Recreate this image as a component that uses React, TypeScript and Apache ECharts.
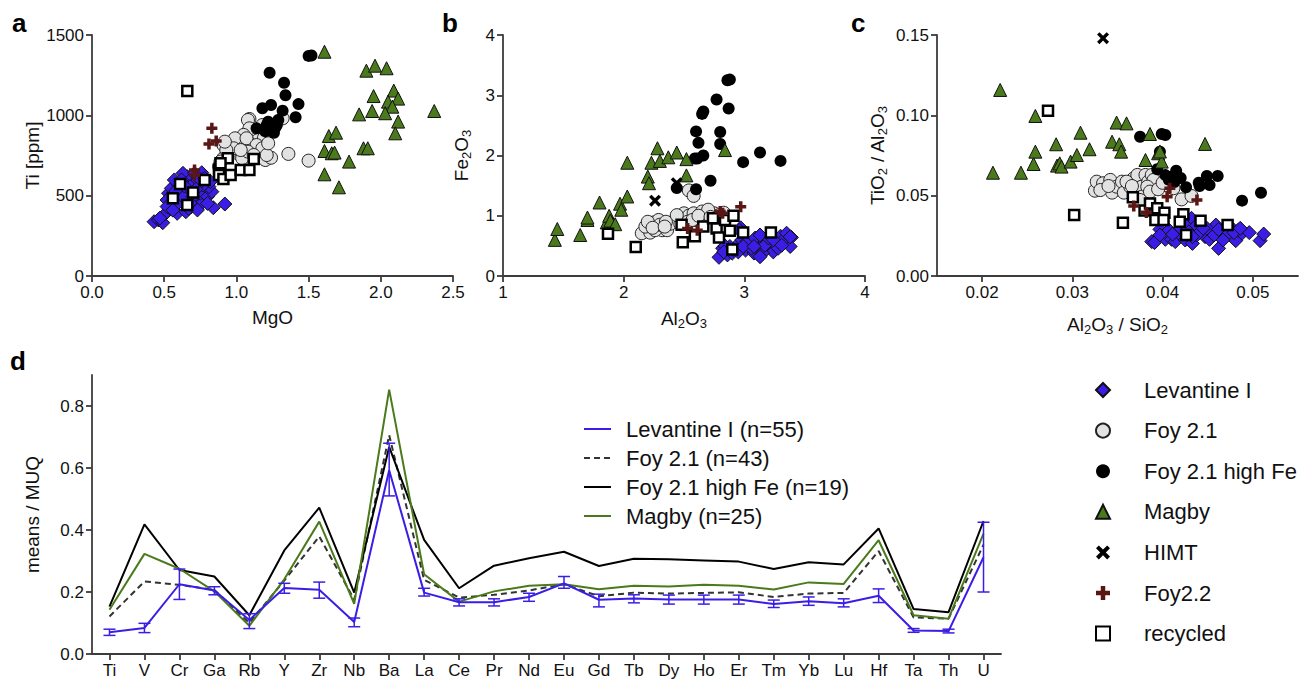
import React, { useEffect, useRef } from "react";
import * as echarts from "echarts";

const FONT = '"Liberation Sans", Arial, Helvetica, sans-serif';

// ---------- Panel a: MgO vs Ti [ppm] ----------
const levA = [[0.43,338],[0.46,349],[0.49,332],[0.51,390],[0.54,421],[0.59,390],[0.65,400],[0.57,483],[0.53,515],[0.55,546],[0.60,566],[0.62,525],[0.66,473],[0.69,432],[0.73,473],[0.76,452],[0.75,515],[0.80,494],[0.83,525],[0.81,556],[0.77,566],[0.73,566],[0.69,587],[0.66,618],[0.63,639],[0.71,639],[0.76,643],[0.68,556],[0.61,473],[0.59,448],[0.84,425],[0.92,448],[0.63,494],[0.70,494],[0.57,598],[0.74,608],[0.78,608],[0.62,598],[0.52,473],[0.52,432],[0.67,421],[0.73,411],[0.80,452],[0.82,587],[0.58,530],[0.64,560],[0.72,540],[0.56,410],[0.47,360],[0.68,455]];
const fyA = [[1.09,977],[1.32,981],[1.08,971],[1.13,898],[1.15,846],[1.19,857],[0.91,815],[0.97,830],[1.03,826],[1.06,774],[1.00,767],[1.09,826],[1.11,795],[0.95,764],[0.91,733],[1.04,733],[1.20,722],[1.24,736],[1.36,760],[1.50,718],[0.89,712],[0.88,681],[1.18,940],[1.09,919],[1.05,878],[0.99,857],[1.07,857],[1.14,815],[1.18,795],[1.08,774],[0.98,795],[0.93,784],[1.12,753],[1.21,753],[1.22,826],[1.03,784],[0.92,836]];
const highFeA = [[1.50,1370],[1.52,1372],[1.23,1265],[1.33,1203],[1.34,1125],[1.18,1044],[1.24,1064],[1.32,1029],[1.43,1070],[1.41,988],[1.22,960],[1.29,971],[1.14,919],[1.26,892],[1.21,940],[1.28,940],[1.24,919],[1.20,900],[1.27,925]];
const magbyA = [[1.61,1396],[1.90,1278],[1.96,1309],[2.04,1293],[2.09,1154],[1.95,1120],[2.05,1085],[2.12,1104],[2.08,1054],[1.85,1006],[1.94,1027],[2.03,1013],[2.37,1027],[2.12,961],[2.10,888],[1.64,871],[1.69,892],[1.61,778],[1.66,764],[1.68,768],[1.88,795],[1.91,795],[1.78,712],[1.61,633],[1.71,552]];
const foy22A = [[0.83,919],[0.81,821],[0.86,840],[0.71,660],[0.71,629]];
const recA = [[0.66,1151],[0.94,733],[0.88,663],[0.88,629],[0.91,604],[0.96,629],[1.03,660],[1.09,660],[1.12,728],[0.78,598],[0.61,573],[0.70,519],[0.56,484],[0.66,442],[0.89,701]];

// ---------- Panel b: Al2O3 vs Fe2O3 ----------
const levB = [[2.79,0.31],[2.82,0.46],[2.86,0.35],[2.90,0.38],[2.94,0.51],[2.97,0.80],[2.98,0.60],[3.01,0.43],[3.04,0.51],[3.08,0.38],[3.10,0.54],[3.13,0.46],[3.16,0.59],[3.19,0.46],[3.22,0.54],[3.24,0.40],[3.27,0.61],[3.30,0.66],[3.33,0.57],[3.39,0.64],[3.38,0.49],[2.88,0.49],[2.95,0.40],[3.06,0.46],[3.15,0.38],[3.26,0.51],[3.34,0.63],[2.84,0.50],[3.02,0.57],[3.09,0.63],[3.17,0.51],[3.28,0.46],[2.91,0.44],[2.99,0.49],[3.20,0.63],[3.24,0.60],[3.35,0.71],[3.13,0.68],[3.08,0.49],[3.31,0.51],[3.13,0.32],[2.83,0.40],[2.96,0.76],[3.38,0.65]];
const fyB = [[2.15,0.71],[2.22,0.72],[2.18,0.82],[2.25,0.89],[2.29,0.93],[2.32,0.76],[2.36,0.76],[2.41,0.90],[2.45,0.93],[2.50,1.04],[2.54,1.00],[2.58,1.04],[2.61,0.96],[2.65,1.07],[2.69,1.01],[2.75,1.04],[2.83,1.05],[2.39,0.87],[2.47,0.86],[2.26,0.76],[2.20,0.90],[2.59,0.93],[2.66,0.93],[2.53,0.90],[2.30,0.85],[2.35,0.90],[2.44,1.01],[2.79,1.01],[2.70,1.10],[2.57,0.93],[2.54,1.42],[2.58,1.33],[2.24,0.80],[2.34,0.82],[2.62,1.00],[2.72,0.98]];
const highFeB = [[2.86,3.25],[2.88,3.26],[2.77,2.93],[2.87,2.78],[2.66,2.73],[2.65,2.69],[2.60,2.40],[2.80,2.39],[2.62,2.21],[2.80,2.19],[2.66,2.00],[2.59,1.95],[2.61,1.95],[3.13,2.05],[2.99,1.89],[3.30,1.91],[2.72,1.58],[2.44,1.46],[2.60,1.44]];
const magbyB = [[1.43,0.60],[1.45,0.78],[1.64,0.68],[1.70,0.93],[1.70,0.97],[1.80,1.22],[1.86,0.89],[1.88,1.00],[1.91,0.87],[1.97,1.20],[1.98,1.10],[2.03,1.32],[2.03,1.88],[2.20,1.65],[2.21,1.54],[2.23,1.88],[2.28,2.12],[2.30,1.91],[2.37,1.97],[2.44,2.05],[2.52,1.94],[2.52,1.67],[2.84,2.09],[1.89,0.92],[1.93,0.86]];
const himtB = [[2.26,1.25],[2.44,1.54]];
const foy22B = [[2.53,0.79],[2.61,0.76],[2.80,1.07],[2.82,1.04],[2.97,1.15]];
const recB = [[1.87,0.70],[2.10,0.48],[2.49,0.56],[2.48,0.85],[2.59,0.66],[2.66,0.82],[2.74,0.96],[2.77,0.79],[2.84,0.93],[2.91,1.00],[2.79,0.64],[2.88,0.75],[2.99,0.72],[2.90,0.44],[3.22,0.72]];

// ---------- Panel c: Al2O3/SiO2 vs TiO2/Al2O3 ----------
const levC = [[0.0388,0.0214],[0.0391,0.0208],[0.0397,0.0290],[0.0403,0.0228],[0.0407,0.0286],[0.0410,0.0228],[0.0414,0.0214],[0.0418,0.0266],[0.0420,0.0297],[0.0425,0.0224],[0.0432,0.0359],[0.0433,0.0203],[0.0436,0.0307],[0.0442,0.0276],[0.0447,0.0245],[0.0452,0.0228],[0.0455,0.0290],[0.0459,0.0317],[0.0462,0.0172],[0.0466,0.0276],[0.0470,0.0249],[0.0475,0.0307],[0.0481,0.0220],[0.0484,0.0286],[0.0488,0.0266],[0.0496,0.0270],[0.0508,0.0220],[0.0512,0.0261],[0.0449,0.0297],[0.0427,0.0286],[0.0438,0.0255],[0.0457,0.0255],[0.0462,0.0290],[0.0479,0.0270],[0.0397,0.0255],[0.0411,0.0260],[0.0433,0.0245],[0.0423,0.0328],[0.0445,0.0297],[0.0486,0.0297],[0.0467,0.0224]];
const fyC = [[0.0325,0.0531],[0.0327,0.0587],[0.0334,0.0577],[0.0342,0.0598],[0.0344,0.0519],[0.0349,0.0556],[0.0355,0.0587],[0.0357,0.0519],[0.0364,0.0556],[0.0368,0.0608],[0.0372,0.0629],[0.0377,0.0556],[0.0381,0.0629],[0.0384,0.0587],[0.0388,0.0629],[0.0392,0.0566],[0.0396,0.0598],[0.0399,0.0618],[0.0403,0.0566],[0.0409,0.0587],[0.0377,0.0494],[0.0375,0.0473],[0.0421,0.0477],[0.0432,0.0498],[0.0331,0.0535],[0.0360,0.0587],[0.0390,0.0598],[0.0383,0.0556],[0.0412,0.0546],[0.0340,0.0560],[0.0366,0.0560],[0.0386,0.0525],[0.0395,0.0540],[0.0400,0.0580]];
const highFeC = [[0.0375,0.0867],[0.0399,0.0884],[0.0403,0.0878],[0.0397,0.0774],[0.0394,0.0664],[0.0415,0.0655],[0.0410,0.0618],[0.0407,0.0598],[0.0413,0.0585],[0.0426,0.0552],[0.0440,0.0581],[0.0441,0.0560],[0.0449,0.0622],[0.0452,0.0566],[0.0461,0.0622],[0.0488,0.0469],[0.0509,0.0518],[0.0403,0.0628],[0.0420,0.0610]];
const magbyC = [[0.0220,0.1158],[0.0212,0.0643],[0.0243,0.0643],[0.0257,0.0697],[0.0259,0.0774],[0.0259,0.0996],[0.0282,0.0820],[0.0283,0.0687],[0.0286,0.0701],[0.0288,0.0681],[0.0298,0.0712],[0.0305,0.0753],[0.0309,0.0892],[0.0319,0.0789],[0.0344,0.0836],[0.0349,0.0955],[0.0352,0.0820],[0.0354,0.0774],[0.0360,0.0950],[0.0381,0.0722],[0.0386,0.0884],[0.0395,0.0764],[0.0399,0.0712],[0.0447,0.0822],[0.0397,0.0775]];
const himtC = [[0.0334,0.148]];
const foy22C = [[0.0368,0.0436],[0.0382,0.0396],[0.0405,0.0494],[0.0408,0.0546],[0.0438,0.0473]];
const recC = [[0.0273,0.1029],[0.0302,0.0380],[0.0356,0.0332],[0.0367,0.0490],[0.0380,0.0407],[0.0386,0.0452],[0.0394,0.0421],[0.0402,0.0394],[0.0392,0.0349],[0.0401,0.0349],[0.0423,0.0384],[0.0419,0.0338],[0.0426,0.0255],[0.0442,0.0344],[0.0472,0.0317]];

// ---------- Panel d: element means / MUQ ----------
const elements = ["Ti","V","Cr","Ga","Rb","Y","Zr","Nb","Ba","La","Ce","Pr","Nd","Eu","Gd","Tb","Dy","Ho","Er","Tm","Yb","Lu","Hf","Ta","Th","U"];
const levMean = [0.070,0.084,0.225,0.205,0.110,0.213,0.207,0.103,0.593,0.198,0.167,0.167,0.184,0.228,0.175,0.179,0.176,0.176,0.176,0.161,0.170,0.164,0.188,0.076,0.074,0.312];
const levLow = [0.060,0.069,0.176,0.191,0.082,0.196,0.180,0.088,0.510,0.187,0.155,0.155,0.170,0.212,0.152,0.165,0.161,0.161,0.161,0.150,0.157,0.152,0.166,0.070,0.068,0.200];
const levHigh = [0.080,0.099,0.274,0.217,0.130,0.228,0.232,0.116,0.680,0.212,0.178,0.178,0.196,0.250,0.193,0.191,0.190,0.190,0.190,0.174,0.184,0.178,0.210,0.082,0.080,0.425];
const fy21Mean = [0.121,0.234,0.223,0.207,0.100,0.237,0.379,0.175,0.706,0.239,0.182,0.191,0.205,0.225,0.186,0.198,0.195,0.197,0.199,0.184,0.195,0.197,0.332,0.118,0.114,0.353];
const highFeMean = [0.153,0.418,0.271,0.250,0.125,0.334,0.472,0.198,0.668,0.368,0.212,0.285,0.309,0.330,0.284,0.307,0.306,0.302,0.298,0.274,0.296,0.289,0.405,0.145,0.135,0.429];
const magbyMean = [0.143,0.323,0.275,0.202,0.091,0.241,0.427,0.162,0.853,0.257,0.169,0.202,0.220,0.225,0.209,0.220,0.218,0.223,0.220,0.208,0.231,0.226,0.367,0.125,0.114,0.388];

const groupNames = ["Levantine I","Foy 2.1","Foy 2.1 high Fe","Magby","HIMT","Foy2.2","recycled"];
const lineNames = ["Levantine I (n=55)","Foy 2.1 (n=43)","Foy 2.1 high Fe (n=19)","Magby (n=25)"];

const BLUE = "#3a1ee6";
const GREEN = "#4a7a1c";
const AXIS = "#3c3c3c";
const TXT = "#111";

const X_PATH = "path://M0,2L2,0L5,3L8,0L10,2L7,5L10,8L8,10L5,7L2,10L0,8L3,5Z";
const PLUS_PATH = "path://M3.4,0H6.6V3.4H10V6.6H6.6V10H3.4V6.6H0V3.4H3.4Z";

const symbolStyles: any = {
  "Levantine I": { symbol: "diamond", symbolSize: 14, itemStyle: { color: BLUE, borderColor: "#111", borderWidth: 1, opacity: 1 } },
  "Foy 2.1": { symbol: "circle", symbolSize: 13, itemStyle: { color: "#e2e2e2", borderColor: "#222", borderWidth: 1, opacity: 1 } },
  "Foy 2.1 high Fe": { symbol: "circle", symbolSize: 12, itemStyle: { color: "#000", borderColor: "#000", borderWidth: 0, opacity: 1 } },
  "Magby": { symbol: "triangle", symbolSize: 13, itemStyle: { color: GREEN, borderColor: "#111", borderWidth: 1, opacity: 1 } },
  "HIMT": { symbol: X_PATH, symbolSize: 12, itemStyle: { color: "#000", opacity: 1 } },
  "Foy2.2": { symbol: PLUS_PATH, symbolSize: 11, itemStyle: { color: "#5a1515", opacity: 1 } },
  "recycled": { symbol: "rect", symbolSize: 10, itemStyle: { color: "#fff", borderColor: "#000", borderWidth: 2.5, opacity: 1 } },
};

function scatter(name: string, data: number[][], idx: number) {
  return { type: "scatter", name, data, xAxisIndex: idx, yAxisIndex: idx, emphasis: { disabled: true }, ...symbolStyles[name] };
}

const rich = {
  n: { fontSize: 19, lineHeight: 24, color: TXT, fontFamily: FONT },
  s: { fontSize: 13, lineHeight: 13, verticalAlign: "bottom", color: TXT, fontFamily: FONT },
};

function valueAxis(grid: number, min: number, max: number, interval: number | null, fmt: (v: number) => string, extra: any = {}) {
  const ax: any = {
    type: "value",
    gridIndex: grid,
    min,
    max,
    splitLine: { show: false },
    axisLine: { show: true, onZero: false, lineStyle: { color: AXIS, width: 1.8 } },
    axisTick: { show: true, length: 6, lineStyle: { color: AXIS, width: 1.8 } },
    axisLabel: { color: TXT, fontSize: 17, fontFamily: FONT, margin: 8, formatter: fmt },
    nameLocation: "middle",
    nameTextStyle: { fontSize: 19, color: TXT, fontFamily: FONT, rich },
    ...extra,
  };
  if (interval !== null) ax.interval = interval;
  return ax;
}

export default function App() {
  const ref = useRef<HTMLDivElement>(null);
  useEffect(() => {
    if (!ref.current) return;
    const chart = echarts.init(ref.current, null, { renderer: "svg" });

    const series: any[] = [];
    const panels = [
      { idx: 0, lev: levA, fy: fyA, hf: highFeA, mg: magbyA, himt: [] as number[][], f22: foy22A, rec: recA },
      { idx: 1, lev: levB, fy: fyB, hf: highFeB, mg: magbyB, himt: himtB, f22: foy22B, rec: recB },
      { idx: 2, lev: levC, fy: fyC, hf: highFeC, mg: magbyC, himt: himtC, f22: foy22C, rec: recC },
    ];
    panels.forEach((p) => {
      series.push(scatter("Foy 2.1", p.fy, p.idx));
      series.push(scatter("Foy 2.1 high Fe", p.hf, p.idx));
      series.push(scatter("Magby", p.mg, p.idx));
      series.push(scatter("Levantine I", p.lev, p.idx));
      series.push(scatter("recycled", p.rec, p.idx));
      series.push(scatter("Foy2.2", p.f22, p.idx));
      series.push(scatter("HIMT", p.himt, p.idx));
    });

    const lineBase = { type: "line", xAxisIndex: 3, yAxisIndex: 3, symbol: "none", showSymbol: false, emphasis: { disabled: true } };
    series.push({ ...lineBase, name: lineNames[1], data: fy21Mean, lineStyle: { color: "#333", width: 2, type: [6, 4] }, itemStyle: { color: "#333" } });
    series.push({ ...lineBase, name: lineNames[2], data: highFeMean, lineStyle: { color: "#000", width: 2 }, itemStyle: { color: "#000" } });
    series.push({ ...lineBase, name: lineNames[3], data: magbyMean, lineStyle: { color: GREEN, width: 2 }, itemStyle: { color: GREEN } });
    series.push({ ...lineBase, name: lineNames[0], data: levMean, lineStyle: { color: BLUE, width: 2 }, itemStyle: { color: BLUE } });
    series.push({
      type: "custom",
      name: "errors",
      xAxisIndex: 3,
      yAxisIndex: 3,
      data: elements.map((_, i) => [i, levLow[i], levHigh[i]]),
      encode: { x: 0, y: [1, 2] },
      renderItem: (params: any, api: any) => {
        const i = api.value(0);
        const p1 = api.coord([i, api.value(1)]);
        const p2 = api.coord([i, api.value(2)]);
        const w = 6;
        const st = { stroke: BLUE, lineWidth: 1.5 };
        return {
          type: "group",
          children: [
            { type: "line", shape: { x1: p1[0], y1: p1[1], x2: p2[0], y2: p2[1] }, style: st },
            { type: "line", shape: { x1: p1[0] - w, y1: p1[1], x2: p1[0] + w, y2: p1[1] }, style: st },
            { type: "line", shape: { x1: p2[0] - w, y1: p2[1], x2: p2[0] + w, y2: p2[1] }, style: st },
          ],
        };
      },
      z: 5,
    });

    const option: any = {
      animation: false,
      backgroundColor: "#fff",
      textStyle: { fontFamily: FONT },
      grid: [
        { left: 92, top: 35, width: 361, height: 241 },
        { left: 503, top: 35, width: 362, height: 241 },
        { left: 937, top: 35, width: 361, height: 241 },
        { left: 92, top: 375, width: 909, height: 279 },
      ],
      xAxis: [
        valueAxis(0, 0, 2.5, 0.5, (v) => v.toFixed(1), { name: "MgO", nameGap: 32 }),
        valueAxis(1, 1, 4, 1, (v) => String(v), { name: "{n|Al}{s|2}{n|O}{s|3}", nameGap: 30 }),
        valueAxis(2, 0.015, 0.055, null, (v) => v.toFixed(2), {
          name: "{n|Al}{s|2}{n|O}{s|3}{n| / SiO}{s|2}",
          nameGap: 36,
          axisLabel: { color: TXT, fontSize: 17, fontFamily: FONT, margin: 8, formatter: (v: number) => v.toFixed(2), customValues: [0.02, 0.03, 0.04, 0.05] },
          axisTick: { show: true, length: 6, lineStyle: { color: AXIS, width: 1.8 }, customValues: [0.02, 0.03, 0.04, 0.05] },
        }),
        {
          type: "category",
          gridIndex: 3,
          data: elements,
          boundaryGap: true,
          axisLine: { show: true, onZero: false, lineStyle: { color: AXIS, width: 1.8 } },
          axisTick: { show: true, alignWithLabel: true, length: 6, lineStyle: { color: AXIS, width: 1.8 } },
          axisLabel: { color: TXT, fontSize: 17, fontFamily: FONT, margin: 8, interval: 0 },
          splitLine: { show: false },
        },
      ],
      yAxis: [
        valueAxis(0, 0, 1500, 500, (v) => String(v), { name: "Ti [ppm]", nameGap: 49 }),
        valueAxis(1, 0, 4, 1, (v) => String(v), { name: "{n|Fe}{s|2}{n|O}{s|3}", nameGap: 30 }),
        valueAxis(2, 0, 0.15, 0.05, (v) => v.toFixed(2), { name: "{n|TiO}{s|2}{n| / Al}{s|2}{n|O}{s|3}", nameGap: 48 }),
        valueAxis(3, 0, 0.9, null, (v) => v.toFixed(1), {
          name: "means / MUQ",
          nameGap: 50,
          axisLabel: { color: TXT, fontSize: 17, fontFamily: FONT, margin: 8, formatter: (v: number) => v.toFixed(1), customValues: [0, 0.2, 0.4, 0.6, 0.8] },
          axisTick: { show: true, length: 6, lineStyle: { color: AXIS, width: 1.8 }, customValues: [0, 0.2, 0.4, 0.6, 0.8] },
        }),
      ],
      legend: [
        {
          data: lineNames,
          orient: "vertical",
          left: 583,
          top: 418,
          itemWidth: 27,
          itemHeight: 14,
          itemGap: 7,
          padding: 0,
          itemStyle: { opacity: 0 },
          textStyle: { fontSize: 22, color: TXT, fontFamily: FONT, padding: [0, 0, 0, 10] },
          selectedMode: false,
        },
        {
          data: groupNames,
          orient: "vertical",
          left: 1095,
          top: 379,
          itemWidth: 14,
          itemHeight: 14,
          itemGap: 18.6,
          padding: 0,
          textStyle: { fontSize: 22, color: TXT, fontFamily: FONT, padding: [0, 0, 0, 29] },
          selectedMode: false,
        },
      ],
      graphic: [
        { type: "text", left: 12, top: 10, style: { text: "a", font: `bold 26px ${FONT}`, fill: "#000" } },
        { type: "text", left: 442, top: 10, style: { text: "b", font: `bold 26px ${FONT}`, fill: "#000" } },
        { type: "text", left: 851, top: 10, style: { text: "c", font: `bold 26px ${FONT}`, fill: "#000" } },
        { type: "text", left: 10, top: 348, style: { text: "d", font: `bold 26px ${FONT}`, fill: "#000" } },
      ],
      series,
    };
    chart.setOption(option);
    return () => chart.dispose();
  }, []);
  return <div ref={ref} style={{ position: "absolute", left: 0, top: 0, width: 1299, height: 681 }} />;
}
